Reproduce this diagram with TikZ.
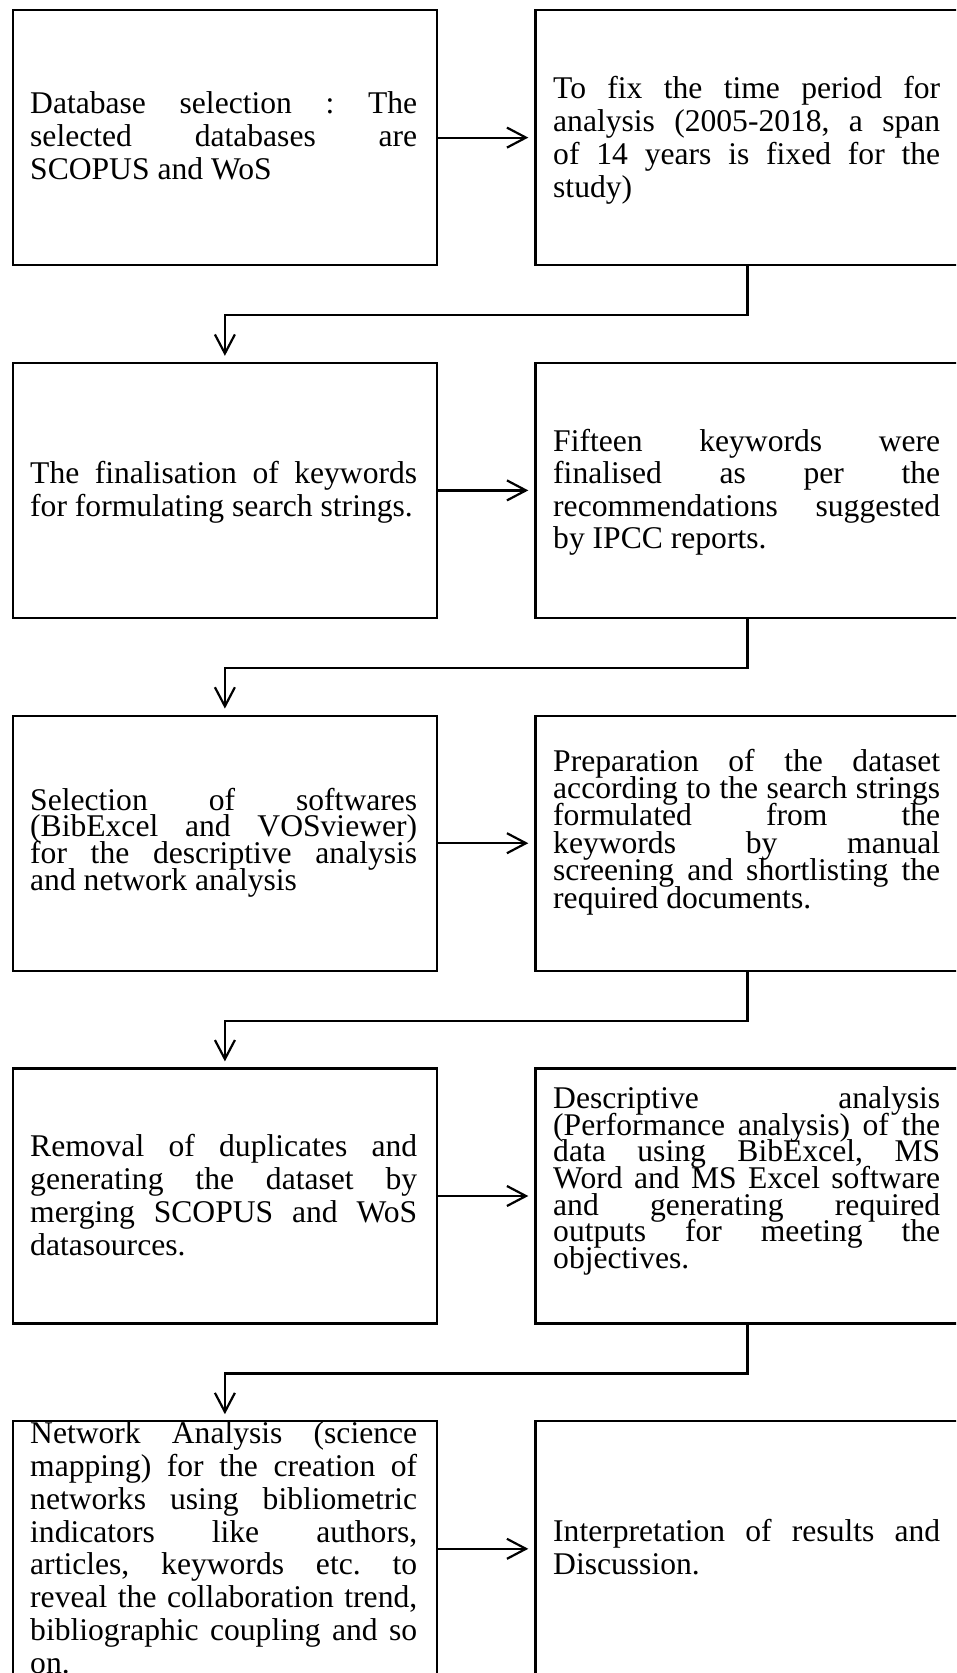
\documentclass[tikz,border=0pt]{standalone}
\usepackage{fontspec}
\setmainfont{Liberation Serif}
\usetikzlibrary{arrows.meta}
% paragraph settings for the justified box texts
\newcommand\boxparsetup{\lineskiplimit=-100pt\relax
  \hyphenpenalty=10000\relax\exhyphenpenalty=10000\relax
  \tolerance=10000\relax\frenchspacing
  \spaceskip=0.25em plus 6em minus 0.06em\relax
  \xspaceskip=\spaceskip}
\begin{document}
\begin{tikzpicture}[x=1pt,y=-1pt,
  stepbox/.style={draw,line width=2.2pt,minimum width=424pt,minimum height=255pt,
    inner sep=0pt,anchor=north west},
  body/.style={anchor=base west,inner sep=0pt,text width=387pt,align=justify,
    font={\fontsize{31.6}{#1}\selectfont\boxparsetup}},
  body/.default=33pt,
  flow/.style={line width=2.2pt,line join=miter,
    -{Straight Barb[length=19pt,width=20pt]},shorten >=6pt}]
\useasboundingbox (0,0) rectangle (956,1673);
\fill[white] (0,0) rectangle (956,1673);
\clip (0,0) rectangle (956,1673);

% boxes: left column and right column, five rows
\node[stepbox] (l1) at (11.8,9) {};
\node[stepbox] (r1) at (534.3,9) {};
\node[stepbox] (l2) at (11.8,361.8) {};
\node[stepbox] (r2) at (534.3,361.8) {};
\node[stepbox] (l3) at (11.8,714.6) {};
\node[stepbox] (r3) at (534.3,714.6) {};
\node[stepbox] (l4) at (11.8,1067.4) {};
\node[stepbox] (r4) at (534.3,1067.4) {};
\node[stepbox] (l5) at (11.8,1420.2) {};
\node[stepbox] (r5) at (534.3,1420.2) {};

% texts
\node[body] (t1) at (30,113) {Database selection : The\linebreak
  selected databases are\linebreak SCOPUS and WoS};
\node[body] (t2) at (553,98) {To fix the time period for\linebreak
  analysis (2005-2018, a span\linebreak of 14 years is fixed for the\linebreak study)};
\node[body] (t3) at (30,483) {The finalisation of keywords\linebreak
  for formulating search strings.};
\node[body=32.5pt] (t4) at (553,451) {Fifteen keywords were\linebreak
  finalised as per the\linebreak recommendations suggested\linebreak by IPCC reports.};
\node[body=26.9pt] (t5) at (30,810) {Selection of softwares\linebreak
  (BibExcel and VOSviewer)\linebreak for the descriptive analysis\linebreak
  and network analysis};
\node[body=27.4pt] (t6) at (553,771) {Preparation of the dataset\linebreak
  according to the search strings\linebreak formulated from the\linebreak
  keywords by manual\linebreak screening and shortlisting the\linebreak
  required documents.};
\node[body=32.8pt] (t7) at (30,1156.7) {Removal of duplicates and\linebreak
  generating the dataset by\linebreak merging SCOPUS and WoS\linebreak datasources.};
\node[body=26.7pt] (t8) at (553,1108.3) {Descriptive analysis\linebreak
  (Performance analysis) of the\linebreak data using BibExcel, MS\linebreak
  Word and MS Excel software\linebreak and generating required\linebreak
  outputs for meeting the\linebreak objectives.};
\node[body=32.9pt] (t9) at (30,1443.3) {Network Analysis (science\linebreak
  mapping) for the creation of\linebreak networks using bibliometric\linebreak
  indicators like authors,\linebreak articles, keywords etc. to\linebreak
  reveal the collaboration trend,\linebreak bibliographic coupling and so\linebreak on.};
\node[body] (t10) at (553,1541.7) {Interpretation of results and\linebreak Discussion.};

% connectors
\draw[flow] (l1.east) -- (r1.west);
\draw[flow] (l2.east) -- (r2.west);
\draw[flow] (l3.east) -- (r3.west);
\draw[flow] (l4.east) -- (r4.west);
\draw[flow] (l5.east) -- (r5.west);
\draw[flow] (r1.south) -- ++(0,48.9) -| (l2.north);
\draw[flow] (r2.south) -- ++(0,48.9) -| (l3.north);
\draw[flow] (r3.south) -- ++(0,48.9) -| (l4.north);
\draw[flow] (r4.south) -- ++(0,48.9) -| (l5.north);
\end{tikzpicture}
\end{document}
